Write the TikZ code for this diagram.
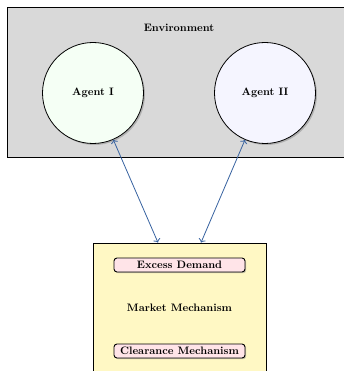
\documentclass[tikz,border=0pt]{standalone}
\usepackage{tikz}
\usetikzlibrary{shadows}
\usetikzlibrary{arrows.meta}

\definecolor{envgray}{RGB}{217,217,217}
\definecolor{agentgreen}{RGB}{245,255,245}
\definecolor{agentblue}{RGB}{245,245,255}
\definecolor{marketyellow}{RGB}{255,248,196}
\definecolor{pillpink}{RGB}{255,228,232}
\definecolor{linkblue}{RGB}{55,98,160}

\tikzset{
  boldtext/.style={font=\fontsize{10.8}{13}\selectfont\bfseries},
  envbox/.style={draw, line width=0.9pt, fill=envgray,
       minimum width=344pt, minimum height=150pt, inner sep=0pt},
  agent/.style={draw, circle, line width=0.8pt, minimum size=101pt,
       inner sep=0pt, boldtext,
       drop shadow={shadow xshift=1.5pt, shadow yshift=-1.5pt, opacity=0.45}},
  marketbox/.style={draw, line width=0.8pt, fill=marketyellow,
       minimum width=173pt, minimum height=130pt, inner sep=0pt, boldtext},
  pill/.style={draw, rounded corners=3pt, line width=0.9pt, fill=pillpink,
       minimum width=131pt, minimum height=14pt, inner sep=0pt, boldtext,
       drop shadow={shadow xshift=1.2pt, shadow yshift=-1.2pt, opacity=0.45}},
  link/.style={draw=linkblue, line width=0.8pt, {To[length=3.5pt]}-{To[length=3.5pt]}}
}

\begin{document}
\begin{tikzpicture}[x=1pt, y=1pt]
\useasboundingbox (0,0) rectangle (343,-371);

\node[envbox] (env) at (179,-82) {};
\node[boldtext] (envlabel) at (179,-28) {Environment};

\node[agent, fill=agentgreen] (agent1) at (93,-93) {Agent I};
\node[agent, fill=agentblue] (agent2) at (265,-93) {Agent II};

\node[marketbox] (market) at (179.5,-308) {Market Mechanism};
\node[pill] (excess) at (179.5,-265) {Excess Demand};
\node[pill] (clear) at (179.5,-351) {Clearance Mechanism};

\coordinate (mktL) at ([xshift=-21.5pt]market.north);
\coordinate (mktR) at ([xshift=21.5pt]market.north);

\draw[link] (mktL) -- (agent1);
\draw[link] (mktR) -- (agent2);
\end{tikzpicture}
\end{document}
